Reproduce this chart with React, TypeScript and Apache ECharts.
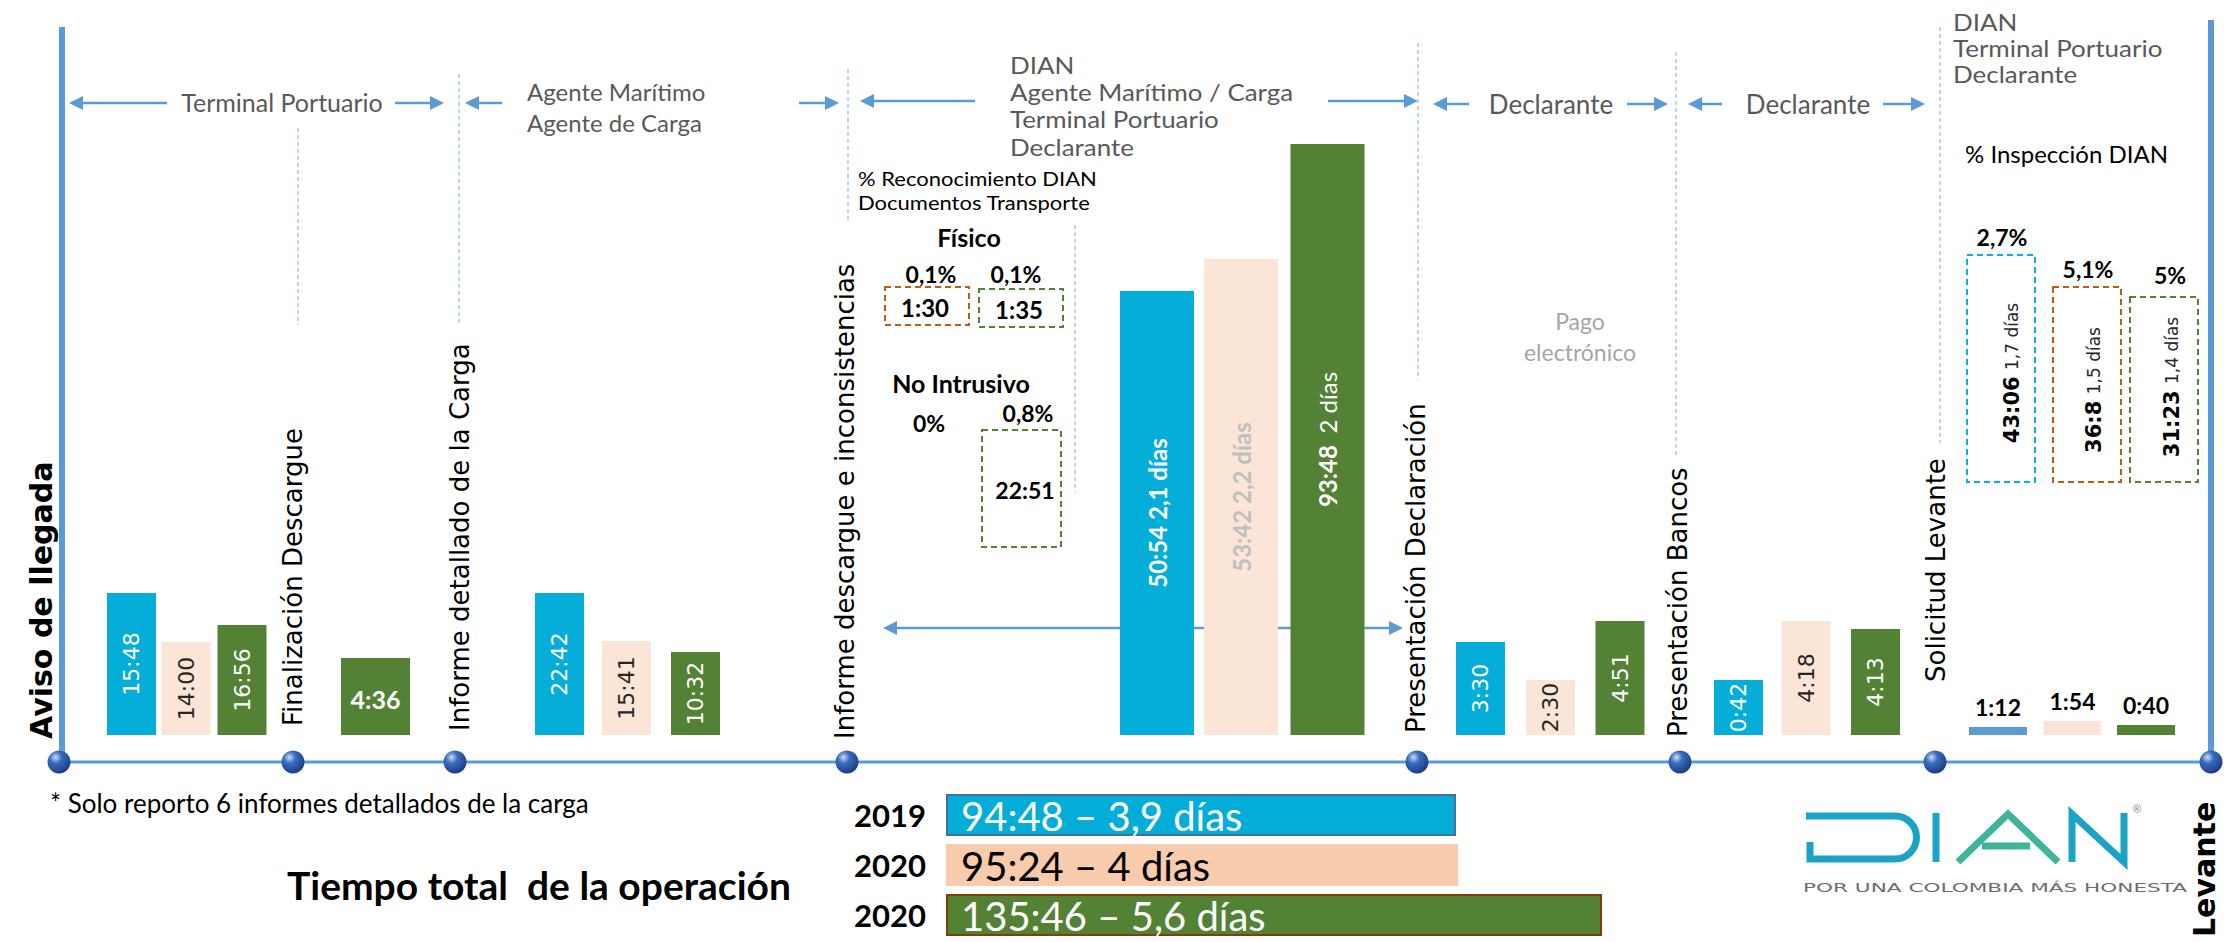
import React, { useEffect, useRef } from "react";
import * as echarts from "echarts";

// ---------------- data ----------------
const milestones = [
  "Aviso de llegada",
  "Finalización Descargue",
  "Informe detallado de la Carga",
  "Informe descargue e inconsistencias",
  "Presentación Declaración",
  "Presentación Bancos",
  "Solicitud Levante",
  "Levante",
];
const years = ["2019", "2020", "2020"];
const stageTimes2019 = ["15:48", null, "22:42", "50:54", "3:30", "0:42", "1:12"];
const stageTimes2020 = ["14:00", null, "15:41", "53:42", "2:30", "4:18", "1:54"];
const stageTimes2020b = ["16:56", "4:36", "10:32", "93:48", "4:51", "4:13", "0:40"];
const stageDays2019 = [null, null, null, "2,1 días", null, null, null];
const stageDays2020 = [null, null, null, "2,2 días", null, null, null];
const stageDays2020b = [null, null, null, "2 días", null, null, null];
// bar lengths as drawn in the picture (relative units)
const barLength2019 = [142, null, 142, 444, 93, 55, 8];
const barLength2020 = [93, null, 94, 476, 55, 114, 14];
const barLength2020b = [110, 77, 83, 591, 114, 106, 10];
const totalLabels = ["94:48 – 3,9 días", "95:24 – 4 días", "135:46 – 5,6 días"];
const totalMinutes = [5688, 5724, 8146];
const inspectionPct = ["2,7%", "5,1%", "5%"];
const inspectionTime = ["43:06", "36:8", "31:23"];
const inspectionDays = ["1,7 días", "1,5 días", "1,4 días"];
const fisicoPct = ["0,1%", "0,1%"];
const fisicoTime = ["1:30", "1:35"];
const noIntrusivoPct = ["0%", "0,8%"];
const noIntrusivoTime = [null, "22:51"];

// ---------------- layout ----------------
const W = 2228;
const H = 942;
const BASE_Y = 735; // screen y of bar baseline
const AXIS_LEVEL = -27; // timeline level relative to baseline
const TOTAL_MIN = -2864;
const TOTAL_MAX = 8920;
const BLUE = "#5B9BD5";
const CYAN = "#05AED8";
const PEACH = "#FBE5D6";
const GREEN = "#548235";
const dotX = [59, 293, 455, 847, 1417, 1680, 1935, 2211];
const labelAnchors = [
  [41, 739], [293, 726], [460, 731], [845, 739], [1416, 733], [1678, 737], [1936, 682], [2204, 937],
];
const barCenterX = [
  [131.5, null, 559.5, 1157, 1480.5, 1738.5, 1998],
  [186, null, 626.5, 1241, 1550.5, 1806, 2072.5],
  [242, 375.5, 695.5, 1327.5, 1620, 1875.5, 2146],
];
const stageBarWidth = [49, 69, 49, 74, 49, 49, 58];
const stageLabelMode = ["rot", "horiz", "rot", "big", "rot", "rot", "above"];
const seriesColor = [CYAN, PEACH, GREEN];
const aboveColor = [BLUE, PEACH, GREEN];
const rotLabelColor = ["#FFFFFF", "#262626", "#FFFFFF"];
const bigLabelColor = ["#FFFFFF", "#BFBFBF", "#FFFFFF"];
const totalFill = ["#03ADD8", "#F8CBAD", GREEN];
const totalStroke = ["#41719C", "#F8CBAD", "#843C0C"];
const totalText = ["#FFFFFF", "#000000", "#FFFFFF"];

const times = [stageTimes2019, stageTimes2020, stageTimes2020b];
const days = [stageDays2019, stageDays2020, stageDays2020b];
const lens = [barLength2019, barLength2020, barLength2020b];

function txt(text: string, x: number, y: number, o: any = {}) {
  const align = o.align || "center";
  const va = o.va || "middle";
  return {
    type: "text",
    x,
    y,
    rotation: o.rot || 0,
    scaleX: o.sx ?? 1,
    scaleY: o.sy ?? 1,
    z: o.z ?? 20,
    style: {
      text,
      fill: o.color || "#000",
      fontSize: o.size || 24,
      fontFamily: o.family || "Lato",
      fontWeight: o.weight || "normal",
      align,
      textAlign: align,
      verticalAlign: va,
      textVerticalAlign: va,
      rich: o.rich,
    },
  };
}

function arrow(tail: number, head: number, y: number, z = 15) {
  const dir = head > tail ? 1 : -1;
  const L = 14;
  const hh = 7;
  return [
    { type: "line", z, shape: { x1: tail, y1: y, x2: head - dir * L * 0.8, y2: y }, style: { stroke: BLUE, lineWidth: 2.5 } },
    { type: "polygon", z, shape: { points: [[head, y], [head - dir * L, y - hh], [head - dir * L, y + hh]] }, style: { fill: BLUE } },
  ];
}

function dashedV(x: number, y1: number, y2: number) {
  return { type: "line", z: 4, shape: { x1: x, y1, x2: x, y2 }, style: { stroke: "#9DC3E6", lineWidth: 1.3, lineDash: [4, 3] } };
}

function dashedBox(x: number, y: number, w: number, h: number, color: string) {
  return { type: "rect", z: 12, shape: { x, y, width: w, height: h }, style: { fill: "transparent", stroke: color, lineWidth: 2, lineDash: [6, 4] } };
}

export default function App() {
  const ref = useRef<HTMLDivElement>(null);
  useEffect(() => {
    if (!ref.current) return;
    const chart = echarts.init(ref.current, undefined, { renderer: "svg" });

    const mainSeries = [0, 1, 2].map((s) => {
      const items: any[] = [];
      lens[s].forEach((len, st) => {
        if (len == null) return;
        items.push({ x: barCenterX[s][st], len, w: stageBarWidth[st], st, t: times[s][st], d: days[s][st] });
      });
      return {
        type: "custom",
        xAxisIndex: 0,
        yAxisIndex: 0,
        z: 5,
        data: items.map((it) => [it.x, it.len, it.w, it.st]),
        renderItem: (params: any, api: any) => {
          const it = items[params.dataIndex];
          const top = api.coord([it.x, it.len]);
          const bot = api.coord([it.x, 0]);
          const w = api.size([it.w, 0])[0];
          const mode = stageLabelMode[it.st];
          const fill = mode === "above" ? aboveColor[s] : seriesColor[s];
          const children: any[] = [
            { type: "rect", shape: { x: top[0] - w / 2, y: top[1], width: w, height: bot[1] - top[1] }, style: { fill } },
          ];
          const cx = top[0];
          const cy = (top[1] + bot[1]) / 2;
          if (mode === "rot") {
            children.push(txt(it.t, cx, cy, { rot: Math.PI / 2, family: "DejaVu Sans", size: 22, color: rotLabelColor[s] }));
          } else if (mode === "horiz") {
            children.push(txt(it.t, cx, cy + 2, { family: "Lato", weight: "bold", size: 25, color: "#FFFFFF" }));
          } else if (mode === "big") {
            const sep = s === 2 ? "  " : " ";
            children.push(
              txt(`{b|${it.t}}${sep}{${s === 2 ? "r" : "b"}|${it.d}}`, cx, cy, {
                rot: Math.PI / 2,
                color: bigLabelColor[s],
                size: 24,
                weight: "bold",
                rich: {
                  b: { fontFamily: "Lato", fontWeight: "bold", fontSize: 24, fill: bigLabelColor[s], color: bigLabelColor[s] },
                  r: { fontFamily: "Lato", fontWeight: "normal", fontSize: 24, fill: bigLabelColor[s], color: bigLabelColor[s] },
                },
              })
            );
          } else if (mode === "above") {
            children.push(txt(it.t, cx, top[1] - 20, { family: "Lato", weight: "bold", size: 23, color: "#000" }));
          }
          return { type: "group", children };
        },
      };
    });

    const totalsSeries = {
      type: "custom",
      xAxisIndex: 1,
      yAxisIndex: 1,
      z: 5,
      data: totalMinutes.map((v, i) => [v, i]),
      renderItem: (params: any, api: any) => {
        const i = params.dataIndex;
        const p0 = api.coord([TOTAL_MIN, i]);
        const p1 = api.coord([api.value(0), i]);
        const bh = 40;
        return {
          type: "group",
          children: [
            {
              type: "rect",
              shape: { x: p0[0], y: p1[1] - bh / 2, width: p1[0] - p0[0], height: bh },
              style: { fill: totalFill[i], stroke: totalStroke[i], lineWidth: 2 },
            },
            txt(totalLabels[i], p0[0] + 14, p1[1] + 1, { align: "left", size: 40, color: totalText[i] }),
          ],
        };
      },
    };

    const timelineSeries = {
      type: "line",
      xAxisIndex: 0,
      yAxisIndex: 0,
      z: 6,
      data: dotX.map((x) => [x, AXIS_LEVEL]),
      symbol: "circle",
      symbolSize: 23,
      lineStyle: { color: BLUE, width: 3 },
      itemStyle: {
        color: new echarts.graphic.RadialGradient(0.35, 0.3, 0.75, [
          { offset: 0, color: "#C9DCF5" },
          { offset: 0.35, color: "#3A6CC0" },
          { offset: 1, color: "#1A3A7E" },
        ]),
        borderWidth: 0,
      },
    };

    const g: any[] = [];
    // edge vertical lines
    g.push({ type: "line", z: 4, shape: { x1: 62, y1: 27, x2: 62, y2: 762 }, style: { stroke: BLUE, lineWidth: 6 } });
    g.push({ type: "line", z: 4, shape: { x1: 2211, y1: 20, x2: 2211, y2: 762 }, style: { stroke: BLUE, lineWidth: 6 } });
    // dashed guides
    [[298, 128, 325], [459, 74, 325], [848, 69, 221], [1075, 225, 492], [1418, 43, 380], [1676, 52, 457], [1940, 27, 443]].forEach(
      ([x, a, b]) => g.push(dashedV(x, a, b))
    );
    // milestone labels
    milestones.forEach((m, i) => {
      const bold = i === 0 || i === milestones.length - 1;
      g.push(
        txt(m, labelAnchors[i][0], labelAnchors[i][1], {
          rot: Math.PI / 2,
          align: "left",
          family: "DejaVu Sans",
          size: bold ? 30 : 26,
          weight: bold ? "bold" : "normal",
          color: "#000",
        })
      );
    });
    // top actor arrows
    g.push(...arrow(167, 69, 103), ...arrow(395, 444, 103));
    g.push(...arrow(502, 465, 103), ...arrow(799, 839, 103));
    g.push(...arrow(975, 860, 101), ...arrow(1328, 1418, 101));
    g.push(...arrow(1469, 1433, 104), ...arrow(1627, 1668, 104));
    g.push(...arrow(1722, 1688, 104), ...arrow(1883, 1925, 104));
    const GREY = "#595959";
    g.push(txt("Terminal Portuario", 282, 102, { size: 25, color: GREY }));
    g.push(txt("Agente Marítimo", 527, 91, { align: "left", size: 24, color: GREY }));
    g.push(txt("Agente de Carga", 527, 122, { align: "left", size: 24, color: GREY }));
    ["DIAN", "Agente Marítimo / Carga", "Terminal Portuario", "Declarante"].forEach((t, i) =>
      g.push(txt(t, 1010, [64, 91, 118, 146][i], { align: "left", size: 24, sx: 1.08, color: GREY }))
    );
    g.push(txt("Declarante", 1551, 104, { size: 26, color: GREY }));
    g.push(txt("Declarante", 1808, 104, { size: 26, color: GREY }));
    ["DIAN", "Terminal Portuario", "Declarante"].forEach((t, i) =>
      g.push(txt(t, 1953, [22, 48, 74][i], { align: "left", size: 23, sx: 1.13, color: GREY }))
    );
    // middle double arrow behind big bars
    g.push(...arrow(1100, 883, 628, 1));
    g.push(...arrow(1100, 1403, 628, 1));
    // reconocimiento block
    g.push(txt("% Reconocimiento DIAN", 858, 178, { align: "left", size: 20, sx: 1.1 }));
    g.push(txt("Documentos Transporte", 858, 202, { align: "left", size: 20, sx: 1.1 }));
    g.push(txt("Físico", 969, 237, { weight: "bold", size: 25 }));
    g.push(txt(fisicoPct[0], 931, 274, { weight: "bold", size: 23 }));
    g.push(txt(fisicoPct[1], 1016, 274, { weight: "bold", size: 23 }));
    g.push(dashedBox(885, 287, 84, 38, "#C55A11"));
    g.push(dashedBox(979, 289, 84, 38, GREEN));
    g.push(txt(fisicoTime[0], 925, 307, { weight: "bold", size: 24 }));
    g.push(txt(fisicoTime[1], 1019, 309, { weight: "bold", size: 24 }));
    g.push(txt("No Intrusivo", 961, 383, { weight: "bold", size: 25 }));
    g.push(txt(noIntrusivoPct[0], 929, 423, { weight: "bold", size: 23 }));
    g.push(txt(noIntrusivoPct[1], 1028, 413, { weight: "bold", size: 23 }));
    g.push(dashedBox(982, 430, 79, 117, GREEN));
    if (noIntrusivoTime[1]) g.push(txt(noIntrusivoTime[1], 1025, 490, { weight: "bold", size: 23 }));
    // pago electronico
    g.push(txt("Pago", 1580, 321, { size: 23, color: "#A6A6A6" }));
    g.push(txt("electrónico", 1580, 352, { size: 23, color: "#A6A6A6" }));
    // inspeccion block
    g.push(txt("% Inspección DIAN", 1965, 153, { align: "left", size: 24 }));
    const inspBoxes = [
      [1967, 255, 68, 227, "#00B0F0", 2002, 237, 2012, 373],
      [2053, 287, 68, 195, "#C55A11", 2088, 269, 2094, 390],
      [2130, 297, 68, 185, GREEN, 2170, 275, 2172, 387],
    ];
    inspBoxes.forEach((b: any, i) => {
      g.push(dashedBox(b[0], b[1], b[2], b[3], b[4]));
      g.push(txt(inspectionPct[i], b[5], b[6], { weight: "bold", size: 23 }));
      g.push(
        txt(`{b|${inspectionTime[i]}} {r|${inspectionDays[i]}}`, b[7], b[8], {
          rot: Math.PI / 2,
          family: "DejaVu Sans",
          size: 20,
          rich: {
            b: { fontFamily: "DejaVu Sans", fontWeight: "bold", fontSize: 21, fill: "#000", color: "#000" },
            r: { fontFamily: "DejaVu Sans", fontWeight: "normal", fontSize: 17, fill: "#262626", color: "#262626" },
          },
        })
      );
    });
    // bottom texts
    g.push(txt("* Solo reporto 6 informes detallados de la carga", 50, 803, { align: "left", size: 26 }));
    g.push(txt("Tiempo total  de la operación", 287, 885, { align: "left", size: 39, weight: "bold" }));
    // DIAN logo
    const LOGO = "#1BA3C6";
    const LG = "#3DB59A";
    const lw = 7;
    g.push({ type: "polyline", z: 12, shape: { points: [[1806, 816], [1895, 816]] }, style: { stroke: LOGO, lineWidth: lw, fill: "none" } });
    g.push({ type: "polyline", z: 12, shape: { points: [[1810, 842], [1810, 859], [1895, 859]] }, style: { stroke: LOGO, lineWidth: lw, fill: "none" } });
    g.push({ type: "arc", z: 12, shape: { cx: 1895, cy: 837.5, r: 21.5, startAngle: -Math.PI / 2, endAngle: Math.PI / 2, clockwise: true }, style: { stroke: LOGO, lineWidth: lw, fill: "none" } });
    g.push({ type: "line", z: 12, shape: { x1: 1936, y1: 813, x2: 1936, y2: 862 }, style: { stroke: LOGO, lineWidth: lw } });
    g.push({ type: "polyline", z: 12, shape: { points: [[1958, 862], [2008, 814], [2058, 862]] }, style: { stroke: LG, lineWidth: lw, fill: "none" } });
    g.push({ type: "line", z: 12, shape: { x1: 1982, y1: 846, x2: 2030, y2: 846 }, style: { stroke: LG, lineWidth: lw } });
    g.push({ type: "polyline", z: 12, shape: { points: [[2072, 862], [2072, 814], [2124, 862], [2124, 813]] }, style: { stroke: LOGO, lineWidth: lw, fill: "none" } });
    g.push(txt("®", 2137, 808, { size: 11, color: "#888" }));
    g.push(txt("POR UNA COLOMBIA MÁS HONESTA", 1803, 887, { align: "left", family: "DejaVu Sans", size: 18, sx: 1.2, sy: 0.72, color: "#6D6D6D" }));

    chart.setOption({
      animation: false,
      backgroundColor: "#FFFFFF",
      grid: [
        { left: 0, right: 0, top: 0, bottom: 0 },
        { left: 947, top: 790, width: 700, height: 150 },
      ],
      xAxis: [
        { type: "value", min: 0, max: W, show: false, gridIndex: 0 },
        { type: "value", min: TOTAL_MIN, max: TOTAL_MAX, show: false, gridIndex: 1 },
      ],
      yAxis: [
        { type: "value", min: BASE_Y - H, max: BASE_Y, show: false, gridIndex: 0 },
        {
          type: "category",
          gridIndex: 1,
          inverse: true,
          data: totalLabels,
          axisLine: { show: false },
          axisTick: { show: false },
          splitLine: { show: false },
          axisLabel: {
            formatter: (_v: string, i: number) => years[i],
            fontFamily: "Lato",
            fontWeight: "bold",
            fontSize: 31,
            color: "#000",
            margin: 21,
          },
        },
      ],
      series: [timelineSeries, ...mainSeries, totalsSeries],
      graphic: { elements: g },
    });
    return () => chart.dispose();
  }, []);
  return <div ref={ref} style={{ position: "absolute", left: 0, top: 0, width: W, height: H, background: "#fff" }} />;
}
